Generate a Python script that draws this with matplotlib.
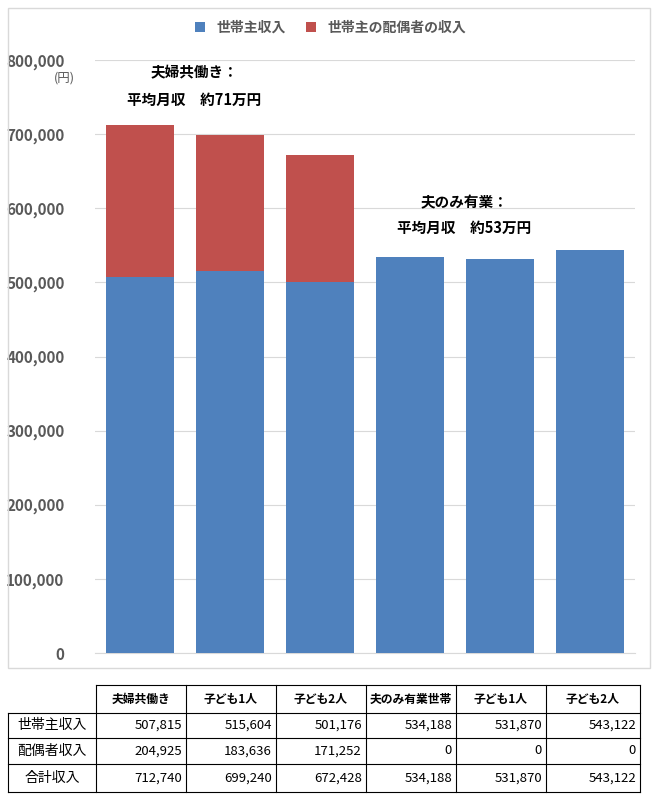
import matplotlib
matplotlib.use("Agg")
import matplotlib.pyplot as plt
from matplotlib.patches import Rectangle
from matplotlib.lines import Line2D

plt.rcParams["font.family"] = "Noto Sans CJK JP"

categories = ["夫婦共働き", "子ども1人", "子ども2人", "夫のみ有業世帯", "子ども1人", "子ども2人"]
head_income = [507815, 515604, 501176, 534188, 531870, 543122]
spouse_income = [204925, 183636, 171252, 0, 0, 0]
total_income = [712740, 699240, 672428, 534188, 531870, 543122]
row_labels = ["世帯主収入", "配偶者収入", "合計収入"]

blue = "#4f81bd"
red = "#c0504d"

fig = plt.figure(figsize=(6.61, 8.0), dpi=100)
W, H = 661, 800
def fx(px): return px / W
def fy(py): return 1 - py / H

# chart border
fig.add_artist(Rectangle((fx(8), fy(668)), fx(650) - fx(8), fy(8) - fy(668),
                         transform=fig.transFigure, fill=False, edgecolor="#d9d9d9", lw=1))

ax = fig.add_axes([fx(95), fy(653), fx(635) - fx(95), fy(60) - fy(653)])
x = list(range(len(categories)))
ax.bar(x, head_income, width=0.75, color=blue, label="世帯主収入", zorder=3)
ax.bar(x, spouse_income, width=0.75, bottom=head_income, color=red, label="世帯主の配偶者の収入", zorder=3)
ax.set_xlim(-0.5, 5.5)
ax.set_ylim(0, 800000)
ax.set_yticks(range(0, 800001, 100000))
ax.set_yticklabels([f"{v:,}" for v in range(0, 800001, 100000)], fontsize=11,
                   color="#595959", fontweight="bold")
ax.set_xticks([])
ax.grid(axis="y", color="#d9d9d9", lw=0.8, zorder=0)
for s in ["top", "right", "left"]:
    ax.spines[s].set_visible(False)
ax.spines["bottom"].set_color("#d9d9d9")
ax.tick_params(axis="y", length=0, pad=22)

ax.text(-0.72, 775000, "(円)", fontsize=9, color="#595959", ha="right", va="center")
ax.text(0.6, 784000, "夫婦共働き：", fontsize=10.5, fontweight="bold", ha="center", va="center")
ax.text(0.6, 746000, "平均月収　約71万円", fontsize=10.5, fontweight="bold", ha="center", va="center")
ax.text(3.6, 608000, "夫のみ有業：", fontsize=10.5, fontweight="bold", ha="center", va="center")
ax.text(3.6, 573000, "平均月収　約53万円", fontsize=10.5, fontweight="bold", ha="center", va="center")

fig.legend(loc="center", bbox_to_anchor=(0.5, fy(28)), ncol=2, frameon=False,
           fontsize=10, handlelength=0.7, handleheight=0.7, columnspacing=1.5,
           labelcolor="#595959", prop={"weight": "bold", "size": 10})

# table
col_x = [8, 96, 186, 276, 366, 456, 546, 640]
row_y = [685, 713, 738, 764, 792]
lw = 0.8
for i, cx in enumerate(col_x):
    y0 = row_y[0] if i >= 1 else row_y[1]
    fig.add_artist(Line2D([fx(cx)] * 2, [fy(y0), fy(row_y[-1])], transform=fig.transFigure, color="black", lw=lw))
for j, ry in enumerate(row_y):
    x0 = col_x[1] if j == 0 else col_x[0]
    fig.add_artist(Line2D([fx(x0), fx(col_x[-1])], [fy(ry)] * 2, transform=fig.transFigure, color="black", lw=lw))

for i, c in enumerate(categories):
    cx = (col_x[i + 1] + col_x[i + 2]) / 2
    fig.text(fx(cx), fy((row_y[0] + row_y[1]) / 2), c, fontsize=8.5, ha="center", va="center", fontweight="bold")
rows = [head_income, spouse_income, total_income]
for r, (lab, vals) in enumerate(zip(row_labels, rows)):
    cy = fy((row_y[r + 1] + row_y[r + 2]) / 2)
    fig.text(fx((col_x[0] + col_x[1]) / 2), cy, lab, fontsize=10, ha="center", va="center")
    for i, v in enumerate(vals):
        fig.text(fx(col_x[i + 2] - 4), cy, f"{v:,}", fontsize=9.5, ha="right", va="center")

fig.savefig("out.png", dpi=100)
